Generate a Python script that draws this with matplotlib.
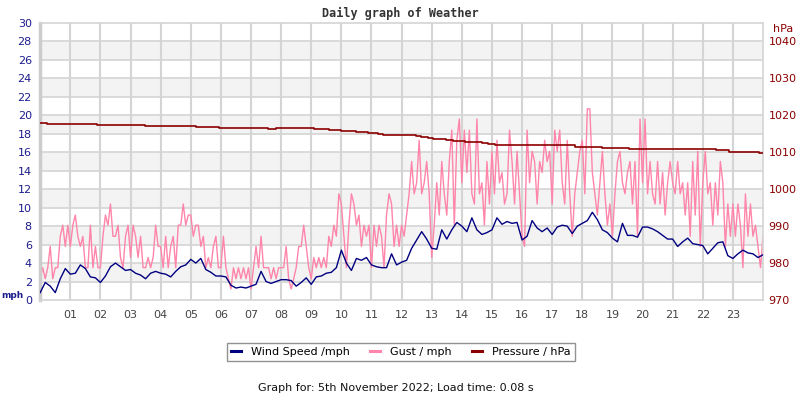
import matplotlib
matplotlib.use("Agg")
import matplotlib.pyplot as plt
import numpy as np
from matplotlib.lines import Line2D

# ---------------- data ----------------
# wind speed (mph), one value every 10 minutes from 00:00, last value at 24:00
wind_speed = [
    0.8, 1.9, 1.5, 0.8, 2.3, 3.4,
    2.8, 2.9, 3.8, 3.4, 2.5, 2.4,
    1.9, 2.6, 3.6, 4.0, 3.6, 3.2,
    3.3, 2.9, 2.7, 2.3, 2.9, 3.1,
    2.9, 2.8, 2.5, 3.1, 3.6, 3.8,
    4.4, 4.0, 4.5, 3.3, 3.0, 2.6,
    2.6, 2.5, 1.6, 1.3, 1.4, 1.3,
    1.5, 1.7, 3.1, 2.0, 1.8, 2.0,
    2.2, 2.2, 2.1, 1.5, 1.9, 2.4,
    1.7, 2.5, 2.6, 2.9, 3.0, 3.5,
    5.4, 4.0, 3.2, 4.5, 4.3, 4.6,
    3.8, 3.6, 3.5, 3.5, 5.0, 3.8,
    4.1, 4.3, 5.6, 6.5, 7.4, 6.6,
    5.6, 5.5, 7.6, 6.6, 7.6, 8.4,
    8.0, 7.4, 8.9, 7.6, 7.1, 7.3,
    7.6, 8.9, 8.2, 8.5, 8.3, 8.4,
    6.5, 6.9, 8.6, 7.8, 7.4, 7.8,
    7.1, 7.9, 8.1, 8.0, 7.2, 8.0,
    8.3, 8.6, 9.5, 8.7, 7.6, 7.3,
    6.7, 6.3, 8.3, 7.0, 7.0, 6.8,
    7.9, 7.9, 7.7, 7.4, 7.0, 6.6,
    6.6, 5.8, 6.3, 6.7, 6.1, 6.0,
    5.9, 5.0, 5.6, 6.2, 6.3, 4.8,
    4.5, 5.0, 5.4, 5.1, 5.0, 4.6,
    4.9,
]

# gust (mph), one value every 5 minutes from 00:00, last value at 24:00
gust = [
    2.3, 3.5, 2.3, 3.5, 5.8, 2.3, 3.5, 3.5, 6.9, 8.1, 5.8, 8.1,
    5.8, 8.1, 9.2, 6.9, 5.8, 6.9, 3.5, 3.5, 8.1, 3.5, 5.8, 3.5,
    3.5, 6.9, 9.2, 8.1, 10.4, 6.9, 6.9, 8.1, 4.6, 3.5, 6.9, 8.1,
    4.6, 8.1, 6.9, 4.6, 6.9, 3.5, 3.5, 4.6, 3.5, 4.6, 8.1, 5.8,
    5.8, 3.5, 6.9, 3.5, 5.8, 6.9, 3.5, 8.1, 8.1, 10.4, 8.1, 9.2,
    9.2, 6.9, 8.1, 8.1, 5.8, 6.9, 3.5, 4.6, 3.5, 5.8, 6.9, 3.5,
    3.5, 6.9, 3.5, 2.3, 1.2, 3.5, 2.3, 3.5, 2.3, 3.5, 2.3, 3.5,
    1.2, 3.5, 5.8, 3.5, 6.9, 3.5, 3.5, 3.5, 2.3, 3.5, 2.3, 3.5,
    3.5, 3.5, 5.8, 2.3, 1.2, 2.3, 3.5, 5.8, 5.8, 8.1, 5.8, 3.5,
    2.3, 4.6, 3.5, 4.6, 3.5, 4.6, 3.5, 6.9, 5.8, 8.1, 6.9, 11.5,
    10.4, 6.9, 3.5, 8.1, 11.5, 10.4, 8.1, 9.2, 5.8, 8.1, 6.9, 8.1,
    3.5, 8.1, 5.8, 8.1, 6.9, 3.5, 9.2, 11.5, 10.4, 5.8, 8.1, 5.8,
    8.1, 6.9, 9.2, 11.5, 15.0, 11.5, 12.7, 17.3, 11.5, 12.7, 15.0, 11.5,
    4.6, 8.1, 12.7, 9.2, 15.0, 11.5, 9.2, 15.0, 18.4, 8.1, 17.3, 19.6,
    12.7, 18.4, 13.8, 18.4, 11.5, 10.4, 19.6, 11.5, 12.7, 8.1, 15.0, 10.4,
    16.1, 11.5, 17.3, 12.7, 13.8, 10.4, 11.5, 18.4, 15.0, 10.4, 16.1, 11.5,
    6.9, 5.8, 18.4, 12.7, 16.1, 15.0, 10.4, 15.0, 13.8, 17.3, 15.0, 16.1,
    10.4, 18.4, 16.1, 18.4, 12.7, 10.4, 17.3, 11.5, 6.9, 11.5, 13.8, 16.1,
    17.3, 11.5, 20.7, 20.7, 13.8, 11.5, 9.2, 12.7, 16.1, 11.5, 8.1, 10.4,
    6.9, 11.5, 15.0, 16.1, 12.7, 11.5, 13.8, 15.0, 10.4, 15.0, 6.9, 19.6,
    12.7, 19.6, 11.5, 15.0, 11.5, 10.4, 15.0, 10.4, 13.8, 9.2, 12.7, 15.0,
    12.7, 11.5, 15.0, 11.5, 12.7, 9.2, 12.7, 6.9, 15.0, 9.2, 16.1, 5.8,
    12.7, 16.1, 11.5, 12.7, 8.1, 12.7, 9.2, 15.0, 12.7, 5.8, 10.4, 6.9,
    10.4, 6.9, 10.4, 8.1, 3.5, 11.5, 6.9, 10.4, 6.9, 8.1, 5.8, 3.5,
    6.9,
]

# pressure (hPa): change times (hours) and levels (step series)
pressure_hours = [0.0, 0.21, 1.88, 3.49, 5.16, 5.93, 7.55, 7.82, 9.1, 9.6,
                  9.99, 10.48, 10.88, 11.21, 11.38, 12.49, 12.66, 12.88, 13.05,
                  13.49, 13.71, 14.1, 14.66, 14.88, 15.1, 15.88, 16.27, 17.77,
                  18.66, 19.55, 21.1, 22.43, 22.88, 23.88, 24.0]
pressure = [1017.95, 1017.7, 1017.45, 1017.15, 1016.9, 1016.7, 1016.4, 1016.7,
            1016.35, 1016.05, 1015.8, 1015.5, 1015.25, 1015.0, 1014.7, 1014.45,
            1014.2, 1013.9, 1013.65, 1013.35, 1013.0, 1012.75, 1012.55, 1012.3,
            1012.1, 1012.0, 1011.85, 1011.5, 1011.2, 1010.95, 1010.75, 1010.5,
            1010.1, 1009.85, 1009.85]

hour_labels = ["%02d" % h for h in range(1, 24)]
mph_ticks = list(range(0, 31, 2))
hpa_ticks = list(range(970, 1041, 10))

title = "Daily graph of Weather"
footer = "Graph for: 5th November 2022; Load time: 0.08 s"

# ---------------- styles ----------------
C_WIND = "#000080"
C_GUST = "#ff85aa"
C_PRES = "#8b0000"
C_LEFT = "#1c1c8c"
C_GRID = "#d4d4d4"
C_BAND = "#f3f3f3"

fig = plt.figure(figsize=(8, 4), dpi=100)
ax = fig.add_axes([40.2 / 800, 0.25, (763 - 40.2) / 800, 277 / 400])
ax.set_xlim(0, 24)
ax.set_ylim(0, 30)

# bands and grid
for lo in range(2, 30, 4):
    ax.axhspan(lo, lo + 2, color=C_BAND, lw=0, zorder=0)
for y in mph_ticks[1:-1]:
    ax.axhline(y, color=C_GRID, lw=1.2, zorder=0.5)
for h in range(1, 24):
    ax.axvline(h, color=C_GRID, lw=1.5, zorder=0.5)

t_wind = np.arange(len(wind_speed)) / 6.0
t_gust = np.arange(len(gust)) / 12.0
ax.plot(t_gust, gust, color=C_GUST, lw=1.0, zorder=2)
ax.plot(t_wind, wind_speed, color=C_WIND, lw=1.0, zorder=3)

for s in ["top", "bottom", "right"]:
    ax.spines[s].set_color(C_GRID)
    ax.spines[s].set_linewidth(1.2)
ax.spines["left"].set_color("#cccccc")
ax.spines["left"].set_linewidth(2.5)

ax.set_yticks(mph_ticks)
ax.set_yticklabels([str(v) for v in mph_ticks])
ax.tick_params(axis="y", length=0, pad=6, labelsize=8, labelcolor=C_LEFT)
ax.set_xticks(range(1, 24))
ax.set_xticklabels(hour_labels)
ax.tick_params(axis="x", length=0, pad=7, labelsize=8, labelcolor="#444444")

ax2 = ax.twinx()
ax2.set_ylim(970, 1045)
ax2.step(pressure_hours, pressure, where="post", color=C_PRES, lw=1.2, zorder=4)
ax2.set_yticks(hpa_ticks)
ax2.set_yticklabels([str(v) for v in hpa_ticks])
ax2.tick_params(axis="y", length=0, pad=4, labelsize=8, labelcolor=C_PRES)
for s in ax2.spines.values():
    s.set_visible(False)

fig.text(773 / 800, 1 - 29 / 400, "hPa", color=C_PRES, fontsize=8,
         ha="left", va="center")
fig.text(1 / 800, 1 - 296 / 400, "mph", color=C_LEFT, fontsize=6.5,
         fontweight="bold", ha="left", va="center")
fig.text(0.5, 1 - 13 / 400, title, family="DejaVu Sans Mono", fontweight="bold",
         fontsize=8.5, color="#333333", ha="center", va="center")
fig.text(396 / 800, 1 - 388 / 400, footer, fontsize=8, color="#111111",
         ha="center", va="center")

handles = [Line2D([], [], color=C_WIND, lw=2.2),
           Line2D([], [], color=C_GUST, lw=2.2),
           Line2D([], [], color=C_PRES, lw=2.2)]
leg = fig.legend(handles, ["Wind Speed /mph", "Gust / mph", "Pressure / hPa"],
                 loc="center", bbox_to_anchor=(401 / 800, 1 - 352 / 400), ncol=3,
                 fontsize=8, frameon=True, fancybox=False, edgecolor="#777777",
                 handlelength=0.9, handletextpad=0.9, columnspacing=1.8,
                 borderpad=0.4, borderaxespad=0)
leg.get_frame().set_linewidth(1.0)

fig.savefig("out.png", dpi=100)
